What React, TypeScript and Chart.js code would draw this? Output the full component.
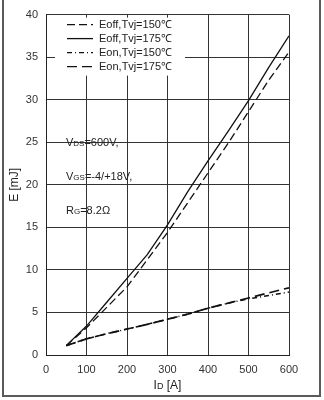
import React, { useEffect, useRef } from "react";
import { Chart, registerables } from "chart.js";

Chart.register(...registerables);

// Drain current I_D [A] and switching energies E [mJ]
const currentA = [50, 100, 150, 200, 250, 300, 350, 400, 450, 500, 550, 600];
const eoff150 = [1.1, 3.2, 5.6, 8.0, 11.2, 14.4, 17.9, 21.4, 24.9, 28.6, 32.3, 35.6];
const eoff175 = [1.1, 3.4, 6.2, 9.0, 11.8, 15.3, 19.2, 22.8, 26.3, 29.9, 33.8, 37.5];
const eon150 = [1.1, 1.9, 2.5, 3.05, 3.6, 4.2, 4.8, 5.5, 6.1, 6.6, 7.0, 7.4];
const eon175 = [1.1, 1.9, 2.5, 3.05, 3.6, 4.2, 4.8, 5.5, 6.1, 6.7, 7.3, 7.9];

const seriesLabels = ["Eoff,Tvj=150℃", "Eoff,Tvj=175℃", "Eon,Tvj=150℃", "Eon,Tvj=175℃"];
const seriesDashes = [[8, 4], [], [5, 3, 1, 3], [10, 5]];
const seriesWidths = [1.3, 1.3, 1.5, 1.7];

const xTickValues = [0, 100, 200, 300, 400, 500, 600];
const yTickValues = [0, 5, 10, 15, 20, 25, 30, 35, 40];

// Test conditions: [main letter, subscript, rest]
const conditions: [string, string, string][] = [
  ["V", "DS", "=600V,"],
  ["V", "GS", "=-4/+18V,"],
  ["R", "G", "=8.2Ω"],
];
const conditionValues = [25, 21, 17];

const xTitle: [string, string, string] = ["I", "D", " [A]"];
const yTitle = "E [mJ]";

const FONT = "'Liberation Sans', Arial, sans-serif";

function drawSubText(
  ctx: CanvasRenderingContext2D,
  parts: [string, string, string],
  x: number,
  y: number,
  big: number,
  small: number,
  align: "left" | "center"
) {
  ctx.textBaseline = "alphabetic";
  ctx.textAlign = "left";
  ctx.font = `${big}px ${FONT}`;
  const w0 = ctx.measureText(parts[0]).width;
  const w2 = ctx.measureText(parts[2]).width;
  ctx.font = `${small}px ${FONT}`;
  const w1 = ctx.measureText(parts[1]).width;
  const total = w0 + w1 + w2;
  let cx = align === "center" ? x - total / 2 : x;
  const base = y + big * 0.36;
  ctx.font = `${big}px ${FONT}`;
  ctx.fillText(parts[0], cx, base);
  cx += w0;
  ctx.font = `${small}px ${FONT}`;
  ctx.fillText(parts[1], cx, base);
  cx += w1;
  ctx.font = `${big}px ${FONT}`;
  ctx.fillText(parts[2], cx, base);
}

const panelText = {
  id: "panelText",
  beforeDatasetsDraw(chart: any) {
    const { ctx, chartArea } = chart;
    ctx.save();
    ctx.fillStyle = "#ffffff";
    ctx.fillRect(chartArea.left + 9, chartArea.top + 3, 130, 58);
    ctx.restore();
  },
  afterDatasetsDraw(chart: any) {
    const { ctx, chartArea, scales } = chart;
    ctx.save();
    // legend
    const lx = chartArea.left + 21;
    const ly = chartArea.top + 10;
    chart.data.datasets.forEach((ds: any, i: number) => {
      const y = ly + i * 14;
      ctx.strokeStyle = "#111";
      ctx.lineWidth = 1.3;
      ctx.setLineDash(ds.borderDash || []);
      ctx.beginPath();
      ctx.moveTo(lx, y);
      ctx.lineTo(lx + 26, y);
      ctx.stroke();
      ctx.setLineDash([]);
      ctx.fillStyle = "#222";
      ctx.font = `11px ${FONT}`;
      ctx.textAlign = "left";
      ctx.textBaseline = "middle";
      ctx.fillText(ds.label, lx + 32, y + 0.5);
    });
    // conditions
    ctx.fillStyle = "#222";
    conditions.forEach((c, i) => {
      drawSubText(ctx, c, chartArea.left + 20, scales.y.getPixelForValue(conditionValues[i]), 11, 8, "left");
    });
    // axis titles
    drawSubText(ctx, xTitle, (chartArea.left + chartArea.right) / 2, chartArea.bottom + 30, 12, 9, "center");
    ctx.translate(15, (chartArea.top + chartArea.bottom) / 2);
    ctx.rotate(-Math.PI / 2);
    ctx.font = `12px ${FONT}`;
    ctx.textAlign = "center";
    ctx.textBaseline = "middle";
    ctx.fillText(yTitle, 0, 0);
    ctx.restore();
  },
};

export default function App() {
  const canvasRef = useRef<HTMLCanvasElement | null>(null);

  useEffect(() => {
    if (!canvasRef.current) return;
    const series = [eoff150, eoff175, eon150, eon175];
    const chart = new Chart(canvasRef.current, {
      type: "line",
      data: {
        datasets: series.map((vals, i) => ({
          label: seriesLabels[i],
          data: currentA.map((x, j) => ({ x, y: vals[j] })),
          borderColor: "#111",
          borderWidth: seriesWidths[i],
          borderDash: seriesDashes[i],
          pointRadius: 0,
          fill: false,
          tension: 0,
        })),
      },
      options: {
        responsive: false,
        animation: false,
        devicePixelRatio: 1,
        layout: { padding: { top: 14, right: 35, left: 0, bottom: 0 } },
        plugins: { legend: { display: false }, tooltip: { enabled: false } },
        scales: {
          x: {
            type: "linear",
            min: 0,
            max: 600,
            afterBuildTicks: (s: any) => {
              s.ticks = xTickValues.map((v) => ({ value: v }));
            },
            afterFit: (s: any) => {
              s.height = 45;
            },
            grid: { color: "#333", lineWidth: 1, drawTicks: false },
            border: { color: "#222", width: 1 },
            ticks: { padding: 8, color: "#333", font: { family: FONT, size: 11 } },
          },
          y: {
            type: "linear",
            min: 0,
            max: 40,
            afterBuildTicks: (s: any) => {
              s.ticks = yTickValues.map((v) => ({ value: v }));
            },
            afterFit: (s: any) => {
              s.width = 46;
            },
            grid: { color: "#333", lineWidth: 1, drawTicks: false },
            border: { color: "#222", width: 1 },
            ticks: { padding: 8, color: "#333", font: { family: FONT, size: 11 } },
          },
        },
      },
      plugins: [panelText],
    });
    return () => chart.destroy();
  }, []);

  return (
    <div style={{ position: "fixed", left: 0, top: 0, width: 324, height: 400, background: "#fff" }}>
      <canvas ref={canvasRef} width={324} height={400} style={{ display: "block" }} />
      <div
        style={{
          position: "absolute",
          left: 2,
          top: -4,
          width: 319,
          height: 401,
          boxSizing: "border-box",
          border: "2px solid #5a5a5a",
          pointerEvents: "none",
        }}
      />
    </div>
  );
}
